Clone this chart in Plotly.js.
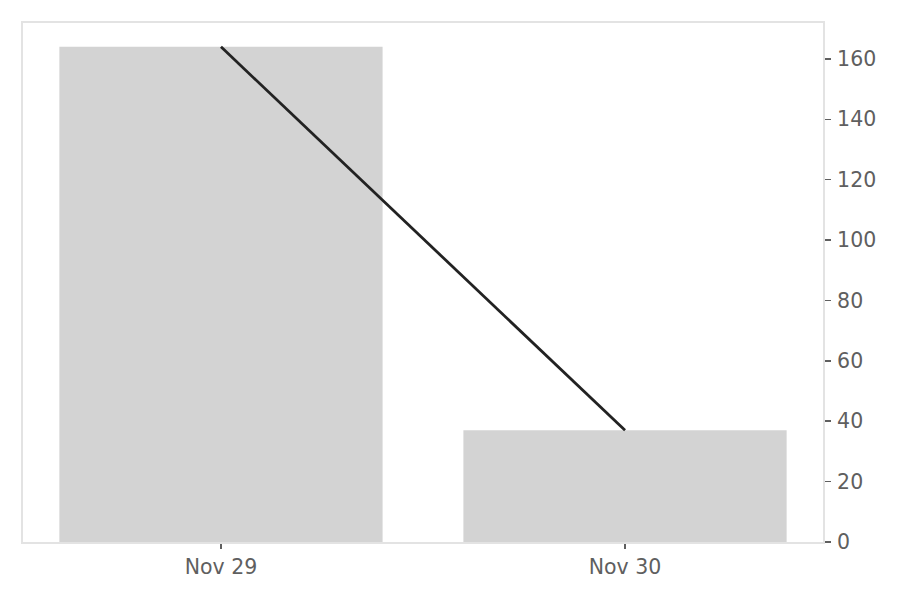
<!DOCTYPE html>
<html>
<head>
<meta charset="utf-8">
<script src="https://cdn.plot.ly/plotly-3.0.1.min.js"></script>
<style>html,body{margin:0;padding:0;background:#fff;}#chart{width:900px;height:600px;}</style>
</head>
<body>
<div id="chart"></div>
<script>
const categories = ["Nov 29", "Nov 30"];
const barValues = [164, 37];
const lineValues = [164, 37];

const traces = [
  {
    type: "bar",
    x: categories,
    y: barValues,
    marker: { color: "#d3d3d3", line: { width: 0 } },
    width: 0.8,
    hoverinfo: "x+y"
  },
  {
    type: "scatter",
    mode: "lines",
    x: categories,
    y: lineValues,
    line: { color: "#222222", width: 2.8 },
    hoverinfo: "x+y"
  }
];

const layout = {
  width: 900,
  height: 600,
  margin: { l: 23, r: 77, t: 23, b: 58 },
  paper_bgcolor: "#ffffff",
  plot_bgcolor: "#ffffff",
  showlegend: false,
  font: { family: "DejaVu Sans", size: 20, color: "#5f5f5f" },
  bargap: 0.2,
  xaxis: {
    type: "category",
    range: [-0.49, 1.49],
    showgrid: false,
    zeroline: false,
    showline: true,
    linecolor: "#e3e3e3",
    linewidth: 2,
    mirror: true,
    ticks: "outside",
    ticklen: 5,
    tickwidth: 1.5,
    tickcolor: "#5f5f5f",
    tickfont: { family: "DejaVu Sans", size: 20.5, color: "#5f5f5f" }
  },
  yaxis: {
    side: "right",
    range: [0, 171.9],
    dtick: 20,
    tick0: 0,
    showgrid: false,
    zeroline: false,
    showline: true,
    linecolor: "#e3e3e3",
    linewidth: 2,
    mirror: true,
    ticks: "outside",
    ticklen: 6,
    tickwidth: 1.5,
    tickcolor: "#5f5f5f",
    ticklabelstandoff: 2,
    tickfont: { family: "DejaVu Sans", size: 20.5, color: "#5f5f5f" }
  }
};

Plotly.newPlot("chart", traces, layout, { displayModeBar: false, staticPlot: true });
</script>
</body>
</html>
